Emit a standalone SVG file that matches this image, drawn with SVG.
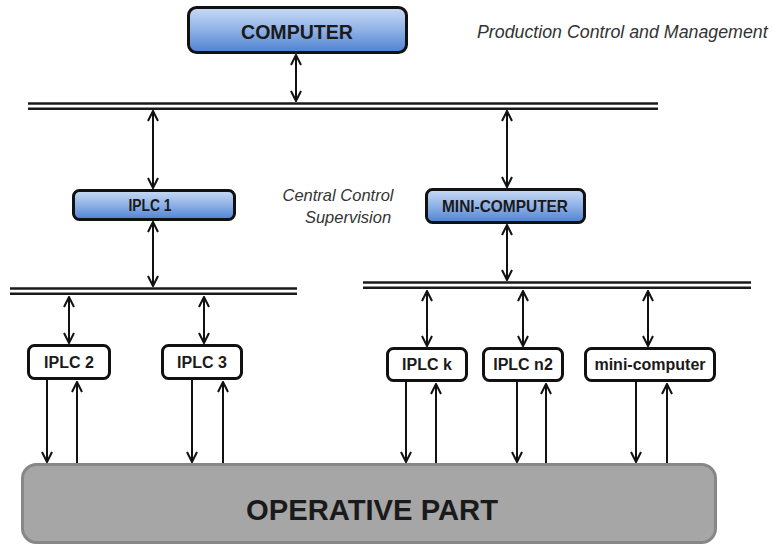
<svg xmlns="http://www.w3.org/2000/svg" width="772" height="544" viewBox="0 0 772 544">
<defs>
<linearGradient id="blue" x1="0" y1="0" x2="0" y2="1">
<stop offset="0" stop-color="#c9dbf5"/>
<stop offset="0.5" stop-color="#8fb1e6"/>
<stop offset="1" stop-color="#4f82d2"/>
</linearGradient>
<marker id="ah" viewBox="0 0 12 12" refX="11" refY="6" markerWidth="12" markerHeight="12" markerUnits="userSpaceOnUse" orient="auto-start-reverse">
<path d="M1,1 L11,6 L1,11" fill="none" stroke="#111" stroke-width="2"/>
</marker>
<style>
.bus{stroke:#1a1a1a;stroke-width:2.6;fill:none}
.con{stroke:#111;stroke-width:2;fill:none}
.blue{fill:url(#blue);stroke:#111;stroke-width:3}
.white{fill:#fff;stroke:#111;stroke-width:3}
.t{font-family:"Liberation Sans",Arial,sans-serif;font-weight:bold;fill:#1a1a1a;text-anchor:middle}
.it{font-family:"Liberation Sans",Arial,sans-serif;font-style:italic;fill:#333}
</style>
</defs>
<rect width="772" height="544" fill="#fff"/>

<g id="buses">
<line class="bus" x1="28" y1="103.5" x2="658" y2="103.5"/>
<line class="bus" x1="28" y1="108.7" x2="658" y2="108.7"/>
<line class="bus" x1="10" y1="288.5" x2="297" y2="288.5"/>
<line class="bus" x1="10" y1="293.7" x2="297" y2="293.7"/>
<line class="bus" x1="363" y1="282.5" x2="751" y2="282.5"/>
<line class="bus" x1="363" y1="287.7" x2="751" y2="287.7"/>
</g>

<g id="connectors">
<line class="con" x1="296" y1="55" x2="296" y2="101" marker-start="url(#ah)" marker-end="url(#ah)"/>
<line class="con" x1="153" y1="111" x2="153" y2="188" marker-start="url(#ah)" marker-end="url(#ah)"/>
<line class="con" x1="507" y1="111" x2="507" y2="187" marker-start="url(#ah)" marker-end="url(#ah)"/>
<line class="con" x1="153" y1="222" x2="153" y2="286" marker-start="url(#ah)" marker-end="url(#ah)"/>
<line class="con" x1="507" y1="225" x2="507" y2="280" marker-start="url(#ah)" marker-end="url(#ah)"/>
<line class="con" x1="69" y1="297" x2="69" y2="343" marker-start="url(#ah)" marker-end="url(#ah)"/>
<line class="con" x1="204" y1="297" x2="204" y2="343" marker-start="url(#ah)" marker-end="url(#ah)"/>
<line class="con" x1="427" y1="291" x2="427" y2="346" marker-start="url(#ah)" marker-end="url(#ah)"/>
<line class="con" x1="523" y1="291" x2="523" y2="346" marker-start="url(#ah)" marker-end="url(#ah)"/>
<line class="con" x1="648" y1="291" x2="648" y2="346" marker-start="url(#ah)" marker-end="url(#ah)"/>
<line class="con" x1="47" y1="380" x2="47" y2="462" marker-end="url(#ah)"/>
<line class="con" x1="77" y1="463" x2="77" y2="382" marker-end="url(#ah)"/>
<line class="con" x1="192" y1="380" x2="192" y2="462" marker-end="url(#ah)"/>
<line class="con" x1="223" y1="463" x2="223" y2="382" marker-end="url(#ah)"/>
<line class="con" x1="406" y1="382" x2="406" y2="462" marker-end="url(#ah)"/>
<line class="con" x1="436" y1="463" x2="436" y2="384" marker-end="url(#ah)"/>
<line class="con" x1="517" y1="382" x2="517" y2="462" marker-end="url(#ah)"/>
<line class="con" x1="546" y1="463" x2="546" y2="384" marker-end="url(#ah)"/>
<line class="con" x1="636" y1="382" x2="636" y2="462" marker-end="url(#ah)"/>
<line class="con" x1="667" y1="463" x2="667" y2="384" marker-end="url(#ah)"/>
</g>

<g id="computer">
<rect class="blue" x="188.5" y="7.5" width="218" height="45" rx="8"/>
<text class="t" x="297" y="39" font-size="20" textLength="112" lengthAdjust="spacingAndGlyphs">COMPUTER</text>
</g>

<g id="iplc1">
<rect class="blue" x="73.5" y="190.5" width="161" height="29" rx="6"/>
<text class="t" x="150" y="211" font-size="16" textLength="43" lengthAdjust="spacingAndGlyphs">IPLC 1</text>
</g>

<g id="mini-computer-top">
<rect class="blue" x="426.5" y="189.5" width="158" height="33" rx="6"/>
<text class="t" x="505" y="212" font-size="16.5" textLength="126" lengthAdjust="spacingAndGlyphs">MINI-COMPUTER</text>
</g>

<g id="iplc2">
<rect class="white" x="28.5" y="345.5" width="81" height="33" rx="6"/>
<text class="t" x="69" y="368" font-size="16">IPLC 2</text>
</g>
<g id="iplc3">
<rect class="white" x="162.5" y="345.5" width="79" height="33" rx="6"/>
<text class="t" x="202" y="368" font-size="16">IPLC 3</text>
</g>
<g id="iplck">
<rect class="white" x="387.5" y="348.5" width="79" height="32" rx="6"/>
<text class="t" x="427" y="370" font-size="16">IPLC k</text>
</g>
<g id="iplcn2">
<rect class="white" x="483.5" y="348.5" width="79" height="32" rx="6"/>
<text class="t" x="523" y="370" font-size="16">IPLC n2</text>
</g>
<g id="minicomputer">
<rect class="white" x="585.5" y="348.5" width="129" height="32" rx="6"/>
<text class="t" x="650" y="370" font-size="16">mini-computer</text>
</g>

<g id="operative">
<rect x="22.5" y="464.5" width="693" height="78" rx="14" fill="#a6a6a6" stroke="#878787" stroke-width="3"/>
<text class="t" x="372" y="520" font-size="30" fill="#111" textLength="252" lengthAdjust="spacingAndGlyphs">OPERATIVE PART</text>
</g>

<g id="labels">
<text class="it" x="477" y="38" font-size="17.8">Production Control and Management</text>
<text class="it" x="338" y="201" font-size="16.5" text-anchor="middle">Central Control</text>
<text class="it" x="348" y="223" font-size="16.5" text-anchor="middle">Supervision</text>
</g>
</svg>
